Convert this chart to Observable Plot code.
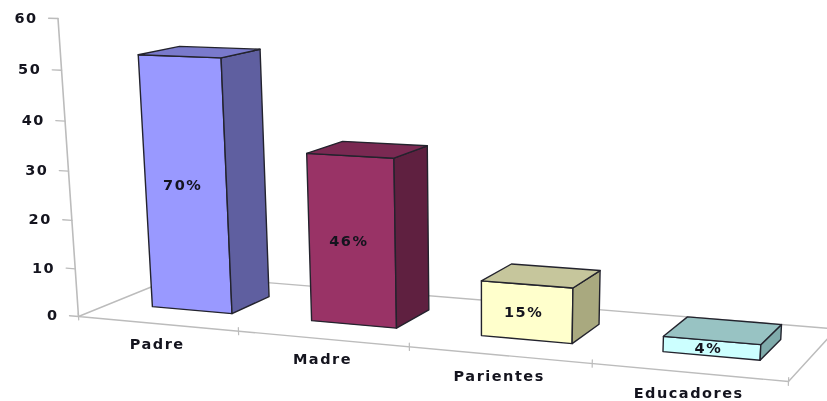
<!DOCTYPE html>
<html lang="es">
<head>
<meta charset="utf-8">
<script src="https://cdn.jsdelivr.net/npm/d3@7"></script>
<script src="https://cdn.jsdelivr.net/npm/@observablehq/plot@0.6"></script>
<style>
html,body{margin:0;padding:0;background:#fff;overflow:hidden}
svg{filter:blur(.35px)}
</style>
</head>
<body>
<div id="chart"></div>
<script>
// ---- data ----
const categories = ["Padre", "Madre", "Parientes", "Educadores"];
const values = [52, 34, 11, 3];
const percentLabels = ["70%", "46%", "15%", "4%"];
const tickValues = [0, 10, 20, 30, 40, 50, 60];
const frontColors = ["#9999ff", "#993366", "#ffffcc", "#ccffff"];
const sideColors = ["#5f5fa0", "#5f2040", "#a9a97f", "#7fabab"];
const topColors = ["#7a7acc", "#7a2952", "#c6c69c", "#98c3c3"];
const valueMax = 60;

// ---- a 3D chart box (category, depth, value) seen in perspective ----
const cornerOrigin = [78, 316], cornerRight = [788, 381], cornerBack = [179, 275], cornerTop = [57.5, 18];
const wO = 1.146, wR = 1, wB = wO * 1.09, wT = wO * 0.952;
function project(u, d, v) {
  const h = i => {
    const o = i < 2 ? cornerOrigin[i] : 1, r = i < 2 ? cornerRight[i] : 1,
          b = i < 2 ? cornerBack[i] : 1, t = i < 2 ? cornerTop[i] : 1;
    return wO * o + u * (wR * r - wO * o) + d * (wB * b - wO * o) + v * (wT * t - wO * o);
  };
  const w = h(2);
  return {x: h(0) / w, y: h(1) / w};
}
const n = categories.length;
const barWidth = 0.127, barShift = 0.005, depth0 = 0.31, depth1 = 0.71;

// faces of every bar
const faces = [];
categories.forEach((c, i) => {
  const u0 = (i + 0.5) / n + barShift - barWidth / 2, u1 = u0 + barWidth, v = values[i] / valueMax;
  const face = (kind, color, corners) => corners.forEach(k =>
    faces.push({id: c + kind, color, ...project(...k)}));
  face("front", frontColors[i], [[u0, depth0, 0], [u1, depth0, 0], [u1, depth0, v], [u0, depth0, v]]);
  face("side", sideColors[i], [[u1, depth0, 0], [u1, depth1, 0], [u1, depth1, v], [u1, depth0, v]]);
  face("top", topColors[i], [[u0, depth0, v], [u1, depth0, v], [u1, depth1, v], [u0, depth1, v]]);
});

const floor = [[0,0,0],[1,0,0],[1,1,0],[0,1,0]].map(k => project(...k));
const wall = [[0,0,0],[0,0,1]].map(k => project(...k));
const valueTicks = tickValues.flatMap(t => [
  {id: t, ...project(0, 0, t / valueMax)},
  {id: t, ...project(-0.0145, 0, t / valueMax)}
]);
const catTicks = d3.range(n + 1).flatMap(i => [
  {id: i, ...project(i / n, 0, -0.012)},
  {id: i, ...project(i / n, 0, 0.012)}
]);
const valueText = tickValues.map(t => ({label: String(t), ...project(-0.0145, 0, t / valueMax)}));
const catText = categories.map((c, i) => ({label: c, ...project((i + 0.5) / n, 0, 0)}));
const barText = categories.map((c, i) => ({
  label: percentLabels[i],
  ...project((i + 0.5) / n + barShift, depth0, values[i] / valueMax / 2)
}));

const font = {fontFamily: "'DejaVu Sans', Verdana, sans-serif", fontWeight: "bold", fill: "#14141e"};
const axisGrey = "#bcbcbc";

const plot = Plot.plot({
  width: 827, height: 401,
  margin: 0,
  x: {domain: [0, 827], range: [0, 827], axis: null},
  y: {domain: [0, 401], range: [0, 401], axis: null},
  style: {background: "#fff", letterSpacing: "1.5px"},
  marks: [
    Plot.line(floor, {x: "x", y: "y", curve: "linear-closed", stroke: axisGrey, strokeWidth: 1.4}),
    Plot.line(wall, {x: "x", y: "y", stroke: axisGrey, strokeWidth: 1.6}),
    Plot.line(valueTicks, {x: "x", y: "y", z: "id", stroke: axisGrey, strokeWidth: 1.4}),
    Plot.line(catTicks, {x: "x", y: "y", z: "id", stroke: axisGrey, strokeWidth: 1.2}),
    Plot.line(faces, {x: "x", y: "y", z: "id", curve: "linear-closed", fill: "color", stroke: "#23232d", strokeWidth: 1.4}),
    Plot.text(valueText, {x: "x", y: "y", text: "label", textAnchor: "end", dx: -11, fontSize: 14.5, ...font}),
    Plot.text(catText, {x: "x", y: "y", text: "label", dy: 21, fontSize: 14.5, ...font}),
    Plot.text(barText, {x: "x", y: "y", text: "label", dx: -3, dy: 0, fontSize: 14.5, ...font})
  ]
});
document.getElementById("chart").appendChild(plot);
</script>
</body>
</html>
